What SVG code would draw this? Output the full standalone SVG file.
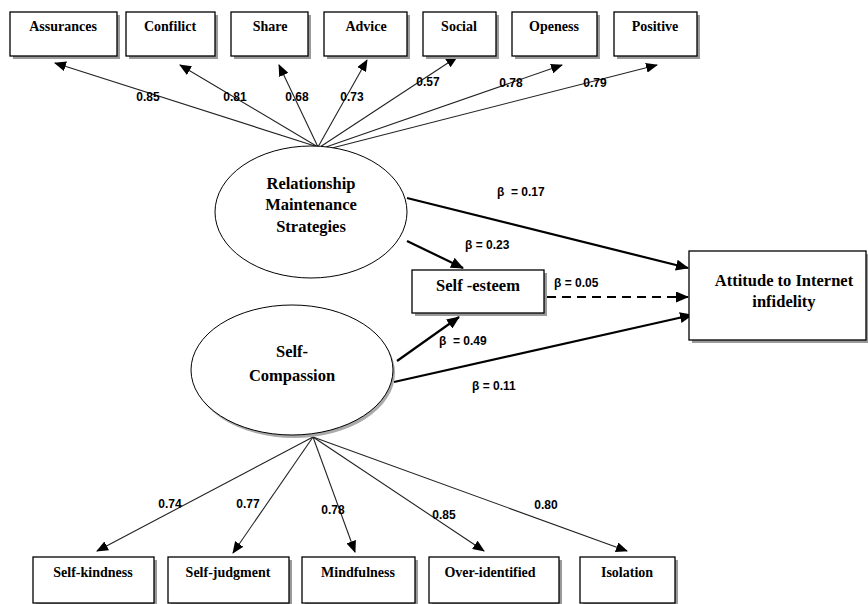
<svg xmlns="http://www.w3.org/2000/svg" width="868" height="604" viewBox="0 0 868 604">
<defs>
<marker id="ah" markerWidth="12" markerHeight="10" refX="11" refY="5" orient="auto" markerUnits="userSpaceOnUse"><path d="M0,0 L12,5 L0,10 Z" fill="#000"/></marker>
<marker id="ah2" markerWidth="13" markerHeight="11" refX="12" refY="5.5" orient="auto" markerUnits="userSpaceOnUse"><path d="M0,0 L13,5.5 L0,11 Z" fill="#000"/></marker>
</defs>
<style>
.box{fill:#fff;stroke:#000;stroke-width:1.3}
.sh{fill:#9a9a9a}
.ell{fill:#fff;stroke:#000;stroke-width:1}
.t{font-family:'Liberation Serif',serif;font-weight:bold;font-size:14px;text-anchor:middle;fill:#000}
.tb{font-family:'Liberation Serif',serif;font-weight:bold;font-size:16.5px;text-anchor:middle;fill:#000}
.n{font-family:'Liberation Sans',sans-serif;font-weight:bold;font-size:12px;text-anchor:middle;fill:#000}
.b{font-family:'Liberation Sans',sans-serif;font-weight:bold;font-size:12px;fill:#000}
.ld{stroke:#222;stroke-width:1.1;fill:none;marker-end:url(#ah)}
.st{stroke:#000;stroke-width:2.2;fill:none;marker-end:url(#ah2)}
</style>
<rect width="868" height="604" fill="#fff"/>
<g id="connectors">
<line class="ld" x1="318" y1="147" x2="55" y2="63"/>
<line class="ld" x1="318" y1="147" x2="180" y2="65"/>
<line class="ld" x1="318" y1="147" x2="279" y2="65"/>
<line class="ld" x1="318" y1="147" x2="367" y2="60"/>
<line class="ld" x1="320" y1="147" x2="457" y2="57"/>
<line class="ld" x1="326" y1="147" x2="562" y2="65"/>
<line class="ld" x1="332" y1="148" x2="657" y2="65"/>
<line class="ld" x1="313" y1="437" x2="97" y2="551"/>
<line class="ld" x1="313" y1="437" x2="233" y2="553"/>
<line class="ld" x1="313" y1="437" x2="355" y2="552"/>
<line class="ld" x1="313" y1="437" x2="484" y2="551"/>
<line class="ld" x1="313" y1="437" x2="627" y2="551"/>
<line class="st" x1="407" y1="198" x2="688" y2="268"/>
<line class="st" x1="407" y1="241" x2="463" y2="268"/>
<line class="st" x1="397" y1="361" x2="459" y2="317"/>
<line class="st" x1="394" y1="382" x2="692" y2="315"/>
<line class="st" x1="547" y1="297" x2="688" y2="297" stroke-dasharray="9,6"/>
<text class="n" x="148" y="101">0.85</text>
<text class="n" x="235" y="101">0.81</text>
<text class="n" x="297" y="101">0.68</text>
<text class="n" x="352" y="101">0.73</text>
<text class="n" x="428" y="86">0.57</text>
<text class="n" x="511" y="87">0.78</text>
<text class="n" x="595" y="87">0.79</text>
<text class="n" x="170" y="508">0.74</text>
<text class="n" x="248" y="508">0.77</text>
<text class="n" x="333" y="514">0.78</text>
<text class="n" x="444" y="519">0.85</text>
<text class="n" x="546" y="509">0.80</text>
<text class="b" x="497" y="196" xml:space="preserve">β  = 0.17</text>
<text class="b" x="465" y="249">β = 0.23</text>
<text class="b" x="554" y="287">β = 0.05</text>
<text class="b" x="439" y="345" xml:space="preserve">β  = 0.49</text>
<text class="b" x="472" y="390">β = 0.11</text>
</g>
<g id="n-assurances"><rect class="sh" x="13" y="15" width="107" height="44"/><rect class="box" x="10" y="12" width="107" height="44"/><text class="t" x="63" y="31">Assurances</text></g>
<g id="n-conflict"><rect class="sh" x="129" y="15" width="89" height="44"/><rect class="box" x="126" y="12" width="89" height="44"/><text class="t" x="170" y="31">Confilict</text></g>
<g id="n-share"><rect class="sh" x="234" y="15" width="77" height="44"/><rect class="box" x="231" y="12" width="77" height="44"/><text class="t" x="270" y="31">Share</text></g>
<g id="n-advice"><rect class="sh" x="327" y="15" width="83" height="44"/><rect class="box" x="324" y="12" width="83" height="44"/><text class="t" x="366" y="31">Advice</text></g>
<g id="n-social"><rect class="sh" x="426" y="15" width="73" height="44"/><rect class="box" x="423" y="12" width="73" height="44"/><text class="t" x="459" y="31">Social</text></g>
<g id="n-openess"><rect class="sh" x="515" y="15" width="85" height="44"/><rect class="box" x="512" y="12" width="85" height="44"/><text class="t" x="554" y="31">Openess</text></g>
<g id="n-positive"><rect class="sh" x="617" y="15" width="83" height="44"/><rect class="box" x="614" y="12" width="83" height="44"/><text class="t" x="655" y="31">Positive</text></g>
<g id="n-rms"><ellipse class="ell" cx="311" cy="212" rx="96" ry="66"/><text class="tb" x="311" y="189">Relationship</text><text class="tb" x="311" y="210">Maintenance</text><text class="tb" x="311" y="232">Strategies</text></g>
<g id="n-sc"><ellipse cx="294" cy="373" rx="101" ry="65" fill="#aaa"/><ellipse class="ell" cx="292" cy="370" rx="101" ry="65"/><text class="tb" x="292" y="357">Self-</text><text class="tb" x="292" y="381">Compassion</text></g>
<g id="n-selfesteem"><rect class="sh" x="415" y="273" width="132" height="43"/><rect class="box" x="412" y="270" width="132" height="43"/><text class="tb" x="478" y="291">Self -esteem</text></g>
<g id="n-attitude"><rect class="sh" x="692" y="254" width="176" height="89"/><rect class="box" x="689" y="251" width="177" height="89"/><text class="tb" x="784" y="286">Attitude to Internet</text><text class="tb" x="784" y="307">infidelity</text></g>
<g id="n-selfkindness"><rect class="sh" x="36" y="560" width="121" height="46"/><rect class="box" x="33" y="557" width="121" height="46"/><text class="t" x="93" y="577">Self-kindness</text></g>
<g id="n-selfjudgment"><rect class="sh" x="171" y="560" width="121" height="46"/><rect class="box" x="168" y="557" width="121" height="46"/><text class="t" x="228" y="577">Self-judgment</text></g>
<g id="n-mindfulness"><rect class="sh" x="305" y="560" width="113" height="46"/><rect class="box" x="302" y="557" width="113" height="46"/><text class="t" x="358" y="577">Mindfulness</text></g>
<g id="n-overidentified"><rect class="sh" x="432" y="560" width="130" height="46"/><rect class="box" x="429" y="557" width="130" height="46"/><text class="t" x="490" y="577">Over-identified</text></g>
<g id="n-isolation"><rect class="sh" x="583" y="560" width="95" height="46"/><rect class="box" x="580" y="557" width="95" height="46"/><text class="t" x="627" y="577">Isolation</text></g>
</svg>
